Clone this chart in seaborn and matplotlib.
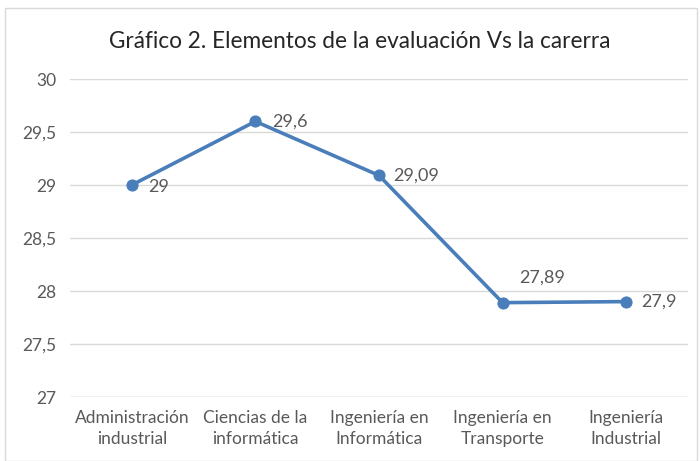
import matplotlib
matplotlib.use("Agg")
import matplotlib.pyplot as plt
import seaborn as sns
import pandas as pd
from matplotlib.patches import Rectangle
from matplotlib.ticker import FuncFormatter

carreras = ["Administración\nindustrial", "Ciencias de la\ninformática", "Ingeniería en\nInformática",
            "Ingeniería en\nTransporte", "Ingeniería\nIndustrial"]
valores = [29, 29.6, 29.09, 27.89, 27.9]
etiquetas = ["29", "29,6", "29,09", "27,89", "27,9"]
# label offsets in points (dx, dy)
offsets = [(12, -1.5), (12, 0), (10, 0), (12, 18), (11, 0)]

sns.set_theme(style="white")
plt.rcParams["font.family"] = ["Lato", "DejaVu Sans"]
gris = "#595959"
azul = "#4a7ebb"

df = pd.DataFrame({"x": range(len(carreras)), "valor": valores})

fig = plt.figure(figsize=(7, 4.61), dpi=100)
ax = fig.add_axes([70 / 700, 1 - 397 / 461, 618 / 700, 318 / 461])

sns.lineplot(data=df, x="x", y="valor", ax=ax, color=azul, linewidth=2.6,
             marker="o", markersize=8, markeredgecolor=azul)

for i, (v, t, (dx, dy)) in enumerate(zip(valores, etiquetas, offsets)):
    ax.annotate(t, (i, v), xytext=(dx, dy), textcoords="offset points",
                ha="left", va="center", fontsize=13, color=gris)

ax.set_xlim(-0.5, 4.5)
ax.set_ylim(27, 30)
ax.set_yticks([27, 27.5, 28, 28.5, 29, 29.5, 30])
ax.yaxis.set_major_formatter(FuncFormatter(lambda v, p: f"{v:g}".replace(".", ",")))
ax.set_xticks(range(len(carreras)))
ax.set_xticklabels(carreras, fontsize=12.5, color=gris, linespacing=1.45)
ax.tick_params(axis="y", labelsize=12.5, labelcolor=gris, length=0, pad=10)
ax.tick_params(axis="x", length=0, pad=9)
ax.grid(axis="y", color="#d9d9d9", linewidth=1)
ax.set_axisbelow(True)
for s in ax.spines.values():
    s.set_visible(False)
ax.axhline(27, color="#d9d9d9", linewidth=1, zorder=0)
ax.set_xlabel("")
ax.set_ylabel("")

fig.text(360 / 700, 1 - 42 / 461, "Gráfico 2. Elementos de la evaluación Vs la carerra",
         ha="center", va="center", fontsize=16.3, color="#262626")

fig.patches.append(Rectangle((5 / 700, 0), 692 / 700, 1 - 8 / 461, transform=fig.transFigure,
                             fill=False, edgecolor="#d9d9d9", linewidth=1))

fig.savefig("out.png", dpi=100)
